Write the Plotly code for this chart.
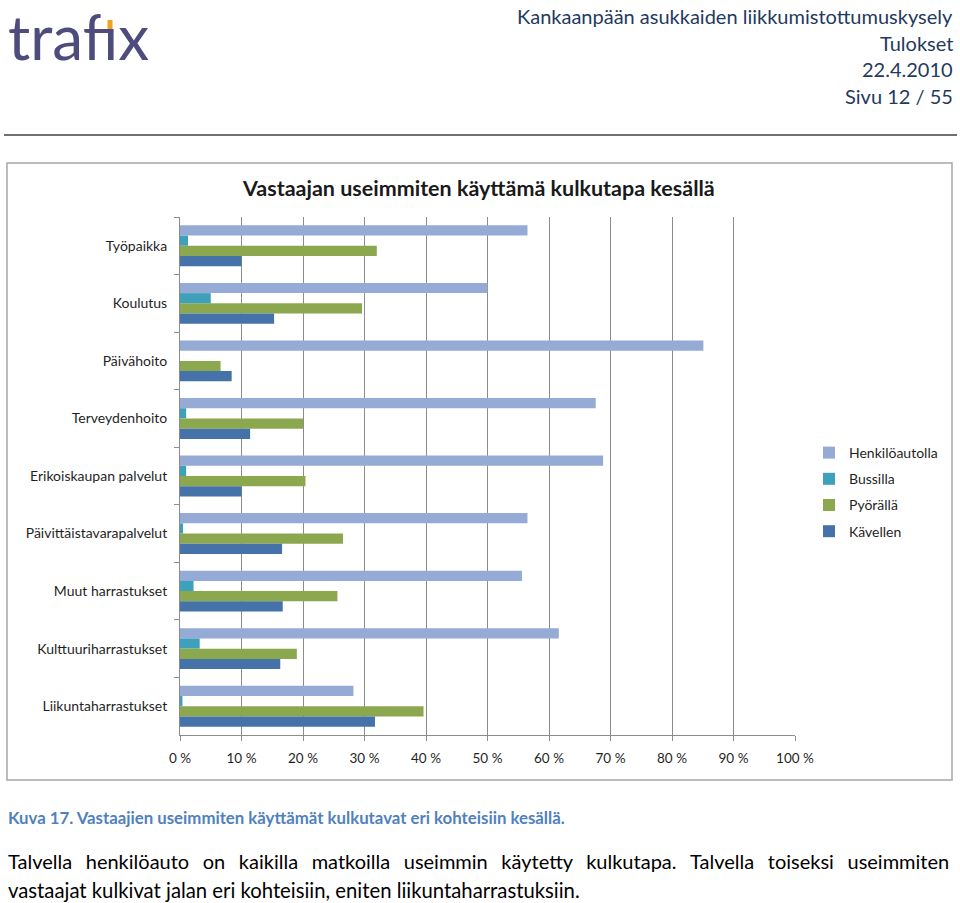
import plotly.graph_objects as go

# data (percent)
kohteet = ["Työpaikka", "Koulutus", "Päivähoito", "Terveydenhoito",
           "Erikoiskaupan palvelut", "Päivittäistavarapalvelut",
           "Muut harrastukset", "Kulttuuriharrastukset", "Liikuntaharrastukset"]
henkiloautolla = [56.5, 50.0, 85.1, 67.6, 68.8, 56.5, 55.6, 61.6, 28.2]
bussilla = [1.3, 5.0, 0.0, 1.0, 1.0, 0.5, 2.2, 3.2, 0.4]
pyoralla = [32.0, 29.6, 6.6, 20.0, 20.4, 26.5, 25.6, 19.0, 39.6]
kavellen = [10.0, 15.3, 8.4, 11.4, 10.0, 16.6, 16.7, 16.3, 31.7]

sarjat = [("Henkilöautolla", henkiloautolla, "#95abd5"),
          ("Bussilla", bussilla, "#3fa0bb"),
          ("Pyörällä", pyoralla, "#8ba84e"),
          ("Kävellen", kavellen, "#4572a8")]

W, H = 960, 903
L, R, T, B = 180, 165, 217, 168
pw, ph = W - L - R, H - T - B

def px(x):
    return (x - L) / pw

def py(y):
    return (H - B - y) / ph

FONT = "Lato"

fig = go.Figure()
for i, (nimi, arvot, vari) in enumerate(sarjat):
    fig.add_trace(go.Bar(y=kohteet, x=arvot, name=nimi, orientation="h",
                         marker=dict(color=vari, line=dict(width=0)),
                         legendgroup=str(i)))

fig.update_layout(
    width=W, height=H,
    margin=dict(l=L, r=R, t=T, b=B),
    paper_bgcolor="white", plot_bgcolor="white",
    barmode="group", bargap=0.29, bargroupgap=0,
    font=dict(family=FONT, size=14, color="#1f1f1f"),
    showlegend=True,
    legend=dict(x=px(809), y=py(437), xanchor="left", yanchor="top",
                traceorder="grouped", tracegroupgap=5,
                font=dict(size=14, color="#1f1f1f")),
    xaxis=dict(range=[0, 100], dtick=10, ticksuffix=" %",
               showgrid=True, gridcolor="#8c8c8c", gridwidth=1,
               zeroline=False, showline=True, linecolor="#8c8c8c",
               ticks="outside", ticklen=5, tickcolor="#8c8c8c",
               ticklabelstandoff=6, tickfont=dict(size=13.5), fixedrange=True),
    yaxis=dict(type="category", autorange="reversed",
               showline=True, linecolor="#8c8c8c", showgrid=False,
               ticks="outside", tickson="boundaries", ticklen=5,
               tickcolor="#8c8c8c", ticklabelstandoff=9),
)

shapes = [
    # header rule
    dict(type="line", xref="paper", yref="paper", x0=px(4), x1=px(957),
         y0=py(135), y1=py(135), line=dict(color="#404040", width=1.6)),
    # chart frame
    dict(type="rect", xref="paper", yref="paper", x0=px(7), x1=px(952),
         y0=py(780), y1=py(163), line=dict(color="#a6a6a6", width=1.5)),
    # logo accent
    dict(type="line", xref="paper", yref="paper", x0=px(110), x1=px(110),
         y0=py(33), y1=py(20), line=dict(color="#f2a31c", width=5)),
]
fig.update_layout(shapes=shapes)

def note(text, x, y, size, color, anchor="left", bold=False, family=FONT):
    if bold:
        text = "<b>" + text + "</b>"
    fig.add_annotation(text=text, xref="paper", yref="paper", x=px(x), y=py(y),
                       xanchor=anchor, yanchor="middle", showarrow=False,
                       font=dict(family=family, size=size, color=color))

# logo
note("trafıx", 6, 36, 62, "#4d4c7d")

# header
otsikko = ["Kankaanpään asukkaiden liikkumistottumuskysely", "Tulokset",
           "22.4.2010", "Sivu 12 / 55"]
for k, rivi in enumerate(otsikko):
    note(rivi, 955, 16 + k * 26.7, 20, "#1f3a60", anchor="right")

note("Vastaajan useimmiten käyttämä kulkutapa kesällä", 478, 188, 21.5,
     "#1a1a1a", anchor="center", bold=True)

note("Kuva 17. Vastaajien useimmiten käyttämät kulkutavat eri kohteisiin kesällä.",
     6, 817, 16.8, "#4f81bd", bold=True)

# justified first line: widen the word gaps
sp = "&nbsp;&nbsp;\u2006"
rivi1 = sp.join(["Talvella", "henkilöauto", "on", "kaikilla", "matkoilla", "useimmin",
                 "käytetty", "kulkutapa.", "Talvella", "toiseksi", "useimmiten"])
note(rivi1, 6, 861, 20, "#000000")
note("vastaajat kulkivat jalan eri kohteisiin, eniten liikuntaharrastuksiin.",
     6, 890, 20.3, "#000000")

fig.write_html("out.html", config={"displayModeBar": False},
               post_script="document.body.style.margin='0';"
                           "document.body.style.overflow='hidden';")
